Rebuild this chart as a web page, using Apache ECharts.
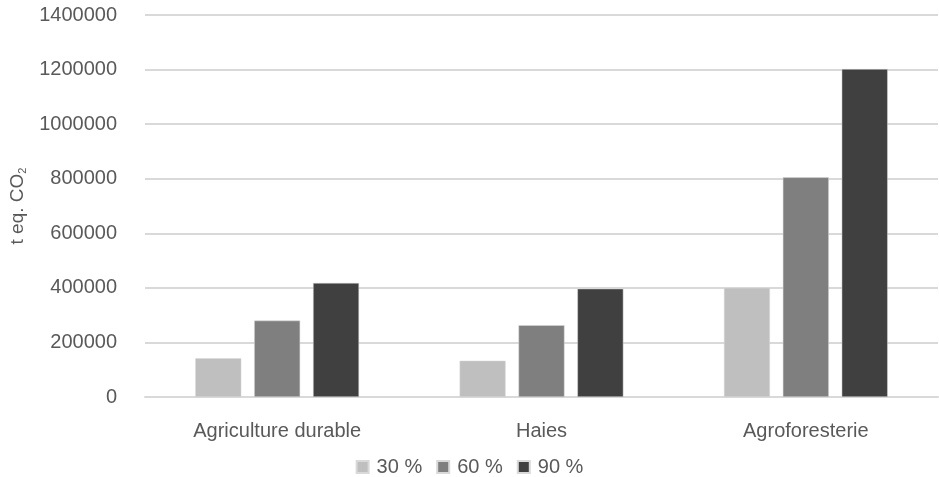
<!DOCTYPE html>
<html>
<head>
<meta charset="utf-8">
<script src="https://cdn.jsdelivr.net/npm/echarts@6/dist/echarts.min.js"></script>
<style>
  html, body { margin: 0; padding: 0; background: #fff; }
  #chart { width: 939px; height: 477px; }
</style>
</head>
<body>
<div id="chart"></div>
<script>
// données
const categories = ['Agriculture durable', 'Haies', 'Agroforesterie']
const seriesNames = ['30 %', '60 %', '90 %']
const values30 = [142000, 133000, 400000]
const values60 = [280000, 263000, 805000]
const values90 = [418000, 397000, 1202000]
const colors = ['#bfbfbf', '#7f7f7f', '#404040']

const font = 'Liberation Sans, Arial, Helvetica, sans-serif'
const textColor = '#595959'

const chart = echarts.init(document.getElementById('chart'))

const allValues = [values30, values60, values90]

chart.setOption({
    animation: false,
    color: colors,
    textStyle: { fontFamily: font },
    grid: {
        left: 145,
        right: 1,
        top: 15,
        bottom: 80
    },
    legend: {
        data: seriesNames,
        top: 452,
        left: 'center',
        itemWidth: 12,
        itemHeight: 12,
        itemGap: 14,
        icon: 'rect',
        textStyle: { color: textColor, fontSize: 20, fontFamily: font, padding: [0, 0, 0, 3] }
    },
    xAxis: {
        type: 'category',
        data: categories,
        axisTick: { show: false },
        axisLine: { lineStyle: { color: '#d9d9d9', width: 2 } },
        axisLabel: { color: textColor, fontSize: 20, margin: 24, fontFamily: font }
    },
    yAxis: {
        type: 'value',
        min: 0,
        max: 1400000,
        interval: 200000,
        name: 't eq. CO{sub|2}',
        nameLocation: 'middle',
        nameRotate: 90,
        nameGap: 117,
        nameTextStyle: {
            color: textColor,
            fontSize: 19,
            fontFamily: font,
            rich: {
                sub: { fontSize: 11, color: textColor, verticalAlign: 'bottom', padding: [9, 0, 0, 0] }
            }
        },
        axisLine: { show: false },
        axisTick: { show: false },
        axisLabel: {
            color: textColor,
            fontSize: 20,
            margin: 28,
            fontFamily: font,
            formatter: v => String(v)
        },
        splitLine: { lineStyle: { color: '#d9d9d9', width: 2 } }
    },
    series: seriesNames.map((name, i) => ({
        name: name,
        type: 'bar',
        data: allValues[i],
        barWidth: 46,
        barGap: '28%',
        itemStyle: { color: colors[i], borderColor: '#d9d9d9', borderWidth: 0.5 }
    }))
})
</script>
</body>
</html>
